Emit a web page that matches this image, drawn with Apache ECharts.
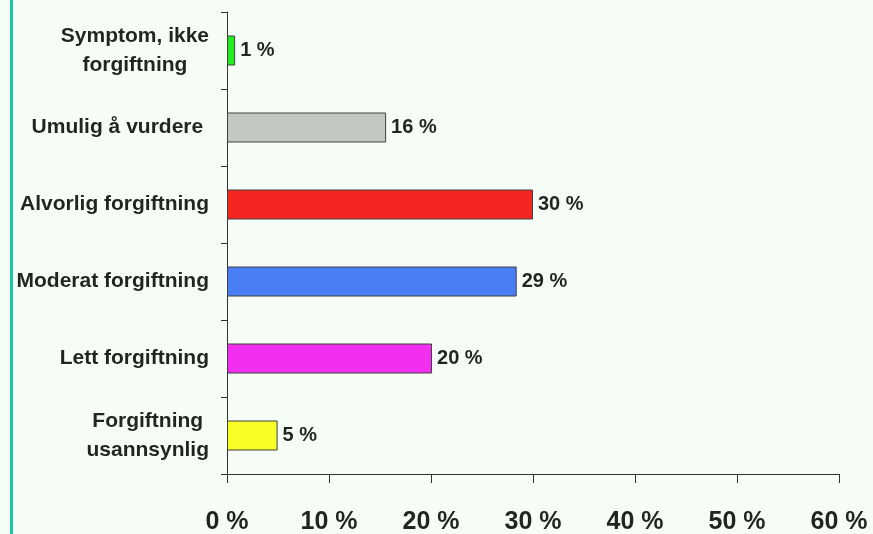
<!DOCTYPE html>
<html>
<head>
<meta charset="utf-8">
<script src="https://cdn.jsdelivr.net/npm/echarts@6/dist/echarts.min.js"></script>
<style>
html,body{margin:0;padding:0;background:#f6fdf6;}
#c{width:873px;height:534px;}
</style>
</head>
<body>
<div id="c"></div>
<script>
var categories = ['Forgiftning\nusannsynlig', 'Lett forgiftning', 'Moderat forgiftning', 'Alvorlig forgiftning', 'Umulig å vurdere ', 'Symptom, ikke\nforgiftning'];
var values = [4.96, 20.1, 28.4, 30.0, 15.6, 0.8];
var valueLabels = ['5 %', '20 %', '29 %', '30 %', '16 %', '1 %'];
var barColors = ['#f7ff24', '#f22ff0', '#4a7ef5', '#f52521', '#c2c9c2', '#22ee22'];
var tickValues = [0, 10, 20, 30, 40, 50, 60];

var chart = echarts.init(document.getElementById('c'));
var txt = '#1f2621';
var ff = '"Liberation Sans", Arial, sans-serif';
chart.setOption({
  backgroundColor: '#f6fdf6',
  animation: false,
  graphic: [{
    type: 'rect', left: 10, top: 0,
    shape: { width: 3, height: 534 },
    style: { fill: '#17c9a0' }
  }],
  grid: { left: 227, right: 34, top: 12, bottom: 60, containLabel: false, outerBoundsMode: 'none' },
  xAxis: {
    type: 'value', min: tickValues[0], max: tickValues[tickValues.length - 1], interval: 10,
    splitLine: { show: false },
    axisLine: { show: true, lineStyle: { color: '#333', width: 1 } },
    axisTick: { show: true, length: 9, lineStyle: { color: '#333' } },
    axisLabel: {
      margin: 36, color: txt, fontFamily: ff,
      fontWeight: 'bold', fontSize: 25,
      formatter: function (v) { return v + ' %'; }
    }
  },
  yAxis: {
    type: 'category', data: categories,
    axisLine: { show: true, lineStyle: { color: '#333', width: 1 } },
    axisTick: { show: true, length: 6, lineStyle: { color: '#333' } },
    axisLabel: {
      margin: 18, color: txt, fontFamily: ff,
      fontWeight: 'bold', fontSize: 21, lineHeight: 29, align: 'right',
      formatter: function (v) {
        return v.split('\n').map(function (s) { return '{c|' + s + '}'; }).join('\n');
      },
      rich: { c: { align: 'center', color: txt, fontFamily: ff, fontWeight: 'bold', fontSize: 21, lineHeight: 29 } }
    }
  },
  series: [{
    type: 'bar',
    barWidth: 30,
    data: values.map(function (v, i) {
      return { value: v, itemStyle: { color: barColors[i] } };
    }),
    itemStyle: { borderColor: '#404040', borderWidth: 1 },
    label: {
      show: true, position: 'right', distance: 5, color: txt,
      fontFamily: ff, fontWeight: 'bold', fontSize: 20,
      formatter: function (p) { return valueLabels[p.dataIndex]; }
    }
  }]
});
</script>
</body>
</html>
